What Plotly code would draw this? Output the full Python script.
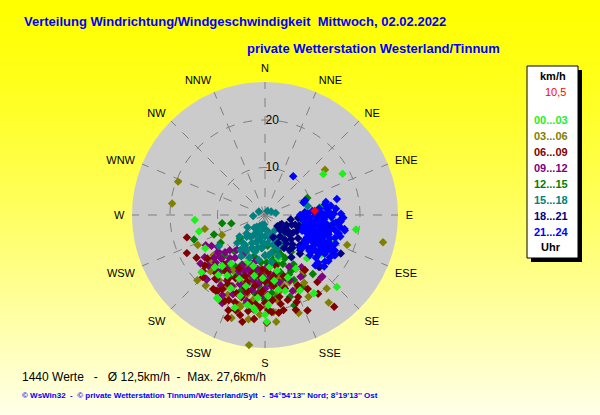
import plotly.graph_objects as go

# ---------------- data: (direction deg, speed km/h) per 3-hour block ----------------
compass = ["N", "NNE", "NE", "ENE", "E", "ESE", "SE", "SSE",
           "S", "SSW", "SW", "WSW", "W", "WNW", "NW", "NNW"]
compass_deg = [0, 22.5, 45, 67.5, 90, 112.5, 135, 157.5,
               180, 202.5, 225, 247.5, 270, 292.5, 315, 337.5]

h00_03 = [(55, 15.0), (62, 18.5), (266, 14.8), (256, 14.3), (99, 19.4), (135, 21.4), (179, 22.5),
          (209, 20.3), (228, 18.0), (103, 7.6), (97, 14.2), (117, 15.2), (120, 16.6), (82, 11.7),
          (148, 19.4), (241, 14.4), (210, 20.2), (191, 19.3), (187, 19.7), (182, 13.3), (224, 15.2),
          (178, 19.0), (144, 9.0), (163, 9.5), (136, 12.7), (186, 20.1), (197, 17.8), (180, 21.0),
          (170, 16.0), (195, 15.5), (205, 17.0), (215, 12.5), (160, 14.0), (175, 11.0), (200, 10.5),
          (190, 13.0), (155, 17.5), (218, 16.0), (168, 12.0), (112, 12.0),
          (165, 16.5), (172, 14.0), (185, 17.5), (193, 11.0), (202, 14.5), (212, 15.0), (220, 14.0),
          (150, 13.0), (178, 17.0), (198, 20.5), (105, 13.0), (110, 15.5), (125, 14.5)]

h03_06 = [(53, 15.8), (291, 19.6), (277, 19.7), (246, 15.5), (257, 13.0), (103, 25.5), (110, 18.4),
          (140, 20.2), (144, 22.8), (161, 21.8), (174, 22.6), (189, 22.2), (187, 27.6), (198, 22.8),
          (220, 19.4), (226, 19.8), (152, 19.5), (146, 14.4), (245, 10.0), (209, 17.5), (196, 19.7),
          (183, 21.0), (179, 19.4), (232, 13.8), (200, 15.0), (185, 14.0), (170, 16.5), (210, 13.5),
          (215, 16.8), (193, 17.2), (178, 12.0), (165, 15.5), (205, 18.5), (230, 15.2), (188, 18.0),
          (158, 17.0), (202, 11.5), (175, 20.5),
          (160, 15.0), (172, 18.0), (182, 16.0), (192, 14.0), (204, 16.5), (212, 18.5), (218, 13.0),
          (224, 16.5), (168, 13.5), (150, 16.5), (195, 20.0), (186, 11.5)]

h06_09 = [(254, 17.1), (244, 18.3), (143, 24.2), (156, 22.0), (200, 23.0), (212, 18.9), (228, 17.6),
          (201, 21.5), (213, 19.0), (179, 22.7), (172, 20.8), (194, 21.7), (186, 18.9), (158, 18.6),
          (142, 17.9), (155, 17.2), (199, 19.4), (190, 18.8), (233, 15.2), (205, 14.7), (193, 16.6),
          (176, 20.5), (169, 20.4), (155, 16.3), (170, 17.5), (144, 14.3), (133, 15.9), (177, 12.0),
          (182, 16.0), (188, 15.0), (196, 18.0), (208, 16.5), (215, 14.5), (220, 13.5), (185, 13.0),
          (175, 14.0), (165, 16.0), (160, 19.5), (150, 13.0), (180, 18.5), (192, 12.5), (203, 19.5),
          (210, 15.5), (218, 17.0), (225, 15.0), (198, 13.5), (187, 20.0), (173, 15.0), (163, 13.5),
          (183, 11.5), (195, 14.5), (206, 12.5), (178, 16.8), (168, 11.0),
          (185, 17.0), (190, 20.5), (195, 16.0), (200, 17.5), (205, 20.0), (210, 18.0), (215, 19.0),
          (220, 16.0), (175, 18.0), (170, 19.0), (165, 18.5), (180, 14.0), (186, 22.0), (192, 23.0),
          (197, 21.0), (162, 21.0), (150, 18.0), (146, 20.0), (225, 18.5), (230, 16.5), (238, 17.0),
          (172, 13.0), (178, 20.0), (183, 19.5)]

h09_12 = [(243, 14.0), (231, 12.7), (218, 12.6), (222, 18.3), (232, 12.5), (219, 11.7), (208, 19.1),
          (213, 14.3), (219, 9.4), (194, 13.0), (204, 11.5), (138, 17.7), (145, 13.4), (162, 13.9),
          (206, 20.6), (159, 14.7), (137, 17.7), (226, 14.4), (223, 18.3), (210, 16.0), (200, 15.5),
          (190, 14.0), (185, 16.5), (196, 17.5), (215, 11.0), (225, 10.5), (228, 16.0), (235, 15.5),
          (205, 13.0), (198, 10.5), (188, 11.5), (180, 13.5), (175, 15.0), (170, 12.5), (212, 17.5),
          (202, 18.0), (192, 18.5), (182, 17.0), (178, 11.0), (165, 16.0), (150, 15.0), (236, 12.0),
          (209, 9.5), (197, 12.0), (186, 20.0),
          (215, 14.0), (220, 15.5), (225, 13.0), (230, 14.0), (240, 13.0), (205, 16.5), (195, 15.0),
          (185, 14.5), (175, 13.0), (168, 14.5), (160, 17.0), (155, 12.0), (210, 10.0), (200, 12.5),
          (190, 16.0), (180, 15.5), (217, 17.0), (227, 11.5), (233, 17.0), (202, 14.0), (192, 10.0),
          (184, 12.5)]

h12_15 = [(68, 9.6), (251, 15.8), (249, 11.5), (259, 9.2), (256, 7.3), (227, 7.2), (214, 7.6),
          (162, 20.0), (141, 16.0), (160, 8.0), (170, 9.5), (175, 11.0), (165, 12.5), (155, 10.0),
          (180, 8.5), (185, 10.0), (190, 12.0), (195, 9.0), (200, 11.0), (205, 14.0), (178, 14.5),
          (168, 15.5), (158, 13.5), (150, 12.0), (145, 9.5), (188, 16.5), (198, 17.0), (210, 12.5),
          (218, 15.0), (183, 13.0), (172, 17.5), (163, 18.0), (192, 19.0), (175, 6.5), (186, 7.0),
          (152, 17.0), (208, 9.0), (220, 10.0), (230, 13.0), (200, 7.5), (180, 18.0), (166, 10.5),
          (156, 15.0), (193, 14.5), (238, 11.0),
          (160, 11.0), (170, 14.0), (175, 16.5), (180, 12.0), (185, 15.0), (190, 9.5), (195, 12.0),
          (200, 13.5), (205, 11.5), (210, 15.0), (165, 14.0), (155, 13.0), (148, 15.0), (188, 13.5),
          (178, 10.0), (168, 8.0), (158, 9.0), (198, 15.5), (215, 13.0), (225, 12.0)]

h15_18 = [(265, 2.5), (80, 2.3), (236, 11.7), (225, 8.3), (78, 9.2), (214, 7.6), (197, 2.2),
          (146, 3.8), (200, 4.0), (210, 5.0), (220, 6.0), (205, 6.5), (190, 5.5), (180, 4.5),
          (170, 3.5), (160, 4.5), (185, 7.0), (195, 8.0), (215, 9.0), (225, 5.5), (230, 7.0),
          (175, 6.0), (165, 6.5), (155, 5.5), (200, 9.5), (210, 10.0), (190, 3.0),
          (220, 3.5), (235, 4.5), (180, 8.5), (170, 8.0), (160, 7.5),
          (150, 7.0), (205, 2.5), (185, 2.0), (215, 3.0), (60, 1.5), (30, 1.0),
          (300, 1.5), (140, 5.5), (195, 5.0), (212, 8.0), (188, 9.5),
          (175, 8.5), (182, 6.0), (192, 7.0), (202, 7.5), (208, 8.5), (218, 7.5),
          (198, 6.0), (188, 4.5), (178, 3.0), (168, 5.0), (158, 6.0), (162, 9.0),
          (172, 10.0), (206, 4.0), (214, 5.5)]

h18_21 = [(124, 3.8), (129, 6.7), (108, 6.7), (141, 6.7), (131, 9.7), (120, 16.6), (134, 15.8),
          (86, 8.4), (117, 17.9), (115, 5.0), (135, 4.5), (145, 5.5), (100, 5.5), (110, 8.0),
          (125, 8.5), (140, 9.0), (150, 8.0), (120, 10.5), (105, 10.0), (95, 7.0), (130, 5.5),
          (118, 4.0), (90, 12.6), (112, 12.0), (128, 12.0), (138, 11.0), (100, 13.5), (155, 6.5),
          (148, 10.5), (122, 7.0), (132, 3.5), (160, 5.0), (103, 9.0), (115, 14.0), (97, 15.5),
          (110, 6.0), (117, 7.5), (125, 6.0), (133, 7.5), (137, 8.5), (143, 7.5), (127, 10.0),
          (113, 9.5), (107, 7.5), (121, 5.0), (135, 10.5), (145, 9.0)]

h21_24 = [(36, 10.1), (77.5, 15.5), (78, 13.1), (72, 8.5), (70, 9.0), (90, 7.4), (94, 15.8),
          (118, 15.5), (132, 12.7), (110, 12.3), (101, 17.1), (122, 9.9), (80, 12.8), (85, 10),
          (88, 12), (92, 14), (95, 11), (98, 13), (100, 9), (102, 15), (105, 12), (107, 14),
          (108, 10), (112, 16), (114, 13), (116, 11), (118, 14), (120, 12), (123, 15), (125, 13),
          (127, 11), (130, 14), (85, 15), (88, 9), (92, 16.5), (96, 8.5), (99, 16), (103, 10.5),
          (106, 16.5), (110, 9), (113, 14.5), (117, 16.5), (121, 10.5), (124, 12), (128, 16),
          (133, 10), (135, 15), (83, 11.5), (87, 13.5), (91, 10.5), (94, 12.5), (97, 14.5),
          (101, 11.5), (104, 13.5), (108, 15.5), (111, 11), (115, 12.5), (119, 13), (126, 14),
          (129, 12), (82, 14), (93, 8), (100, 17), (106, 8.5), (114, 10), (120, 17), (131, 16.5),
          (89, 16), (97, 9.5), (103, 12.8), (109, 13.2), (116, 15), (122, 13.8),
          (86, 11), (90, 13), (93, 9.5), (96, 15), (99, 10.5), (102, 13), (105, 9.5), (107, 11),
          (111, 13), (113, 8.5), (115, 15.5), (118, 10), (120, 15), (124, 10), (126, 16.5),
          (130, 10.5), (132, 15), (84, 13), (87, 8.5), (91, 12), (95, 16), (98, 11.8), (102, 14.2),
          (106, 13.8), (110, 14.5), (114, 11.8), (119, 11.2), (123, 16.3), (127, 12.5), (98, 8),
          (104, 16), (112, 10.5), (116, 13.7), (121, 14.3), (89, 14.5), (92, 11.2), (100, 12.2),
          (108, 12.2)]

current = (85, 10.5)
current_label = "10,5"
n_values = 1440
avg_speed = "12,5"
max_speed = "27,6"

groups = [("00...03", h00_03, "#1ef01e"), ("03...06", h03_06, "#808000"),
          ("06...09", h06_09, "#800000"), ("09...12", h09_12, "#800080"),
          ("12...15", h12_15, "#008000"), ("15...18", h15_18, "#008080"),
          ("18...21", h18_21, "#000080"), ("21...24", h21_24, "#0000ff")]
draw_order = [4, 1, 3, 2, 0, 5, 6, 7]

# ---------------- figure ----------------
fig = go.Figure()
for gi in draw_order:
    name, pts, col = groups[gi]
    fig.add_trace(go.Scatterpolar(
        theta=[p[0] for p in pts], r=[p[1] for p in pts], mode="markers", name=name,
        marker=dict(symbol="diamond", size=6.5, color=col, line=dict(width=0)),
        showlegend=False, hoverinfo="skip"))
fig.add_trace(go.Scatterpolar(theta=[current[0]], r=[current[1]], mode="markers",
                              marker=dict(symbol="diamond", size=6.5, color="#ff0000"),
                              showlegend=False, hoverinfo="skip"))

# yellow gradient background
shapes = []
nb = 83
for i in range(nb):
    t = i / (nb - 1)
    b = int(round(0 + 232 * t ** 1.3))
    shapes.append(dict(type="rect", xref="paper", yref="paper", layer="below",
                       x0=0, x1=1, y0=1 - (i + 1) / nb, y1=1 - i / nb + 0.002,
                       line=dict(width=0), fillcolor=f"rgb(255,255,{b})"))

W, H = 600, 415
def px(x): return x / W
def py(y): return 1 - y / H

# legend box with shadow
shapes.append(dict(type="rect", xref="paper", yref="paper", x0=px(531), x1=px(582),
                   y0=py(262), y1=py(70), fillcolor="black", line=dict(width=0)))
shapes.append(dict(type="rect", xref="paper", yref="paper", x0=px(527), x1=px(578),
                   y0=py(258), y1=py(66), fillcolor="white", line=dict(color="black", width=1)))

ann = []
def text(x, y, s, size, color, bold=False, xanchor="left", family="Liberation Sans, Arial, sans-serif"):
    ann.append(dict(x=px(x), y=py(y), xref="paper", yref="paper", showarrow=False,
                    text=f"<b>{s}</b>" if bold else s, xanchor=xanchor, yanchor="middle",
                    font=dict(size=size, color=color, family=family)))

text(22, 21, "Verteilung Windrichtung/Windgeschwindigkeit  Mittwoch, 02.02.2022", 13, "#0000ff", True)
text(245, 48, "private Wetterstation Westerland/Tinnum", 13, "#0000ff", True)
text(553, 76, "km/h", 11, "black", True, "center")
text(568, 92, current_label, 11, "#ff0000", False, "right")
yy = 120
for name, pts, col in groups:
    text(551, yy, name, 11, col, True, "center")
    yy += 16
text(551, 247, "Uhr", 11, "black", True, "center")
text(20, 377, f"{n_values} Werte   -   Ø {avg_speed}km/h  -  Max. {max_speed}km/h", 12, "black")
text(20, 395, "© WsWin32  -  © private Wetterstation Tinnum/Westerland/Sylt  -  54°54'13'' Nord; 8°19'13'' Ost",
     8, "#0000ff", True)

fig.update_layout(
    width=W, height=H, margin=dict(l=0, r=0, t=0, b=0),
    paper_bgcolor="#ffff00", shapes=shapes, annotations=ann,
    font=dict(family="Liberation Sans, Arial, sans-serif", color="black"),
    polar=dict(
        domain=dict(x=[(265 - 133) / W, (265 + 133) / W], y=[py(348), py(82)]),
        bgcolor="#cbcbcb",
        angularaxis=dict(rotation=90, direction="clockwise", tickmode="array",
                         tickvals=compass_deg, ticktext=compass, showline=False,
                         showgrid=True, gridcolor="#7f7f7f", griddash="dash", gridwidth=1,
                         ticks="outside", ticklen=5, tickcolor="rgba(0,0,0,0)",
                         tickfont=dict(size=11, color="black")),
        radialaxis=dict(range=[0, 28], tickmode="array", tickvals=[10, 20], ticktext=["10", "20"],
                        angle=90, tickangle=90, showline=False, showgrid=True,
                        gridcolor="#7f7f7f", griddash="dash", gridwidth=1, ticks="",
                        tickfont=dict(size=12, color="black")),
    ),
)
fig.write_html("out.html", config={"displayModeBar": False},
               post_script="document.body.style.margin='0px';")
